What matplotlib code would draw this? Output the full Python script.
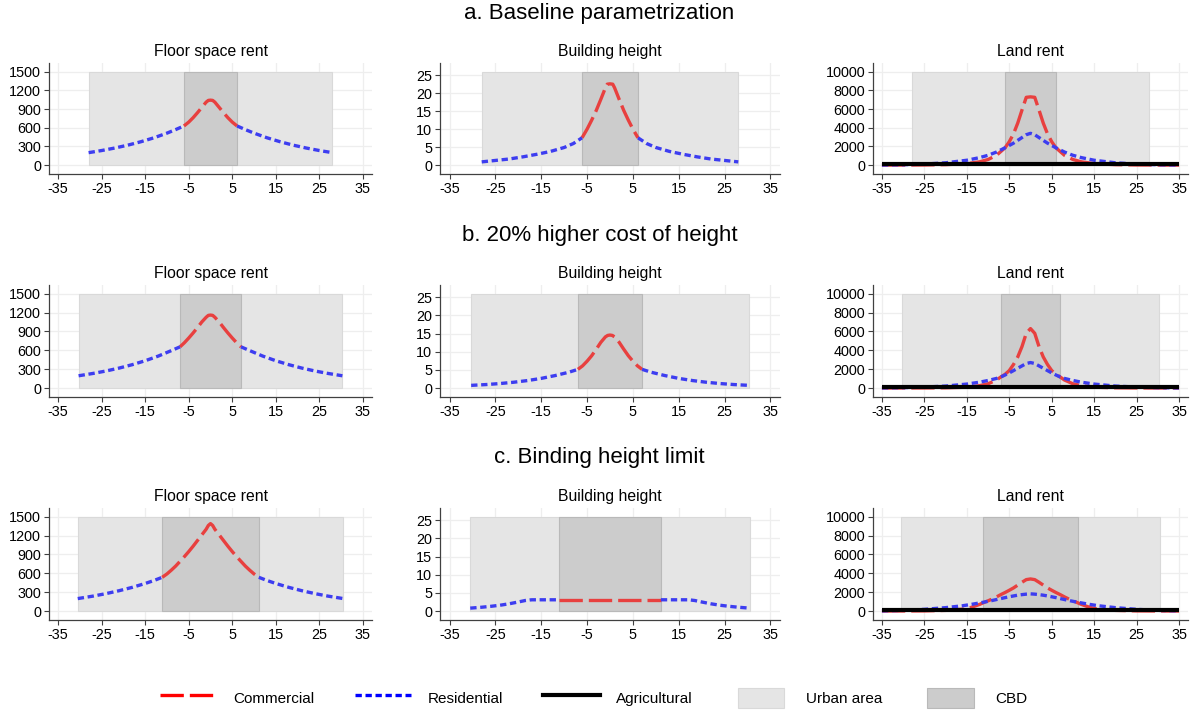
import numpy as np
import matplotlib
matplotlib.use("Agg")
import matplotlib.pyplot as plt
from matplotlib.lines import Line2D
from matplotlib.patches import Rectangle, Patch
from matplotlib.legend_handler import HandlerPatch

plt.rcParams['font.family'] = ['Liberation Sans', 'DejaVu Sans']
plt.rcParams['axes.unicode_minus'] = False

nan = np.nan

# ---------------- data ----------------
ROW_TITLES = ["a. Baseline parametrization", "b. 20% higher cost of height", "c. Binding height limit"]
PANEL_TITLES = ["Floor space rent", "Building height", "Land rent"]
LEGEND_LABELS = ["Commercial", "Residential", "Agricultural", "Urban area", "CBD"]

X_TICKS = [-35, -25, -15, -5, 5, 15, 25, 35]
FLOOR_TICKS = [0, 300, 600, 900, 1200, 1500]
HEIGHT_TICKS = [0, 5, 10, 15, 20, 25]
LAND_TICKS = [0, 2000, 4000, 6000, 8000, 10000]
SHADE_TOP = [1500, 26, 10000]   # floor, height, land

# boundaries per scenario
CBD_EDGE = [6.1, 7.0, 11.1]
URBAN_EDGE = [28.0, 30.3, 30.5]

# --- a. baseline ---
A_FLOOR_RES_X = [-28, -25, -22, -19, -16, -13, -10, -8, -6.1, nan, 6.1, 8, 10, 13, 16, 19, 22, 25, 28]
A_FLOOR_RES_Y = [200, 234, 274, 320, 375, 438, 513, 570, 628, nan, 628, 570, 513, 438, 375, 320, 274, 234, 200]
A_FLOOR_COM_X = [-6.1, -5, -4, -3, -2, -1, -0.5, 0, 0.5, 1, 2, 3, 4, 5, 6.1]
A_FLOOR_COM_Y = [628, 690, 760, 840, 925, 1010, 1038, 1042, 1038, 1010, 925, 840, 760, 690, 628]

A_HEIGHT_RES_X = [-28, -25, -22, -19, -16, -13, -10, -8, -6.1, nan, 6.1, 8, 10, 13, 16, 19, 22, 25, 28]
A_HEIGHT_RES_Y = [0.9, 1.3, 1.7, 2.3, 3.0, 3.8, 4.9, 6.0, 7.6, nan, 7.6, 6.0, 4.9, 3.8, 3.0, 2.3, 1.7, 1.3, 0.9]
A_HEIGHT_COM_X = [-6.1, -5, -4, -3, -2, -1, -0.6, 0, 0.6, 1, 2, 3, 4, 5, 6.1]
A_HEIGHT_COM_Y = [7.6, 10.0, 12.5, 15.2, 18.3, 21.5, 22.5, 22.6, 22.5, 21.5, 18.3, 15.2, 12.5, 10.0, 7.6]

A_LAND_X = [-35, -30, -25, -20, -15, -12, -10, -8, -6, -5, -4, -3, -2, -1, 0,
            1, 2, 3, 4, 5, 6, 8, 10, 12, 15, 20, 25, 30, 35]
A_LAND_COM = [0, 5, 15, 50, 160, 350, 600, 1050, 1850, 2500, 3350, 4500, 5900, 7250, 7300,
              7250, 5900, 4500, 3350, 2500, 1850, 1050, 600, 350, 160, 50, 15, 5, 0]
A_LAND_RES = [10, 40, 110, 250, 520, 800, 1050, 1400, 1850, 2100, 2350, 2650, 2950, 3250, 3400,
              3250, 2950, 2650, 2350, 2100, 1850, 1400, 1050, 800, 520, 250, 110, 40, 10]

# --- b. 20% higher cost of height ---
B_FLOOR_RES_X = [-30.3, -27, -24, -21, -18, -15, -12, -9, -7, nan, 7, 9, 12, 15, 18, 21, 24, 27, 30.3]
B_FLOOR_RES_Y = [195, 232, 271, 317, 371, 434, 508, 595, 655, nan, 655, 595, 508, 434, 371, 317, 271, 232, 195]
B_FLOOR_COM_X = [-7, -6, -5, -4, -3, -2, -1, -0.5, 0, 0.5, 1, 2, 3, 4, 5, 6, 7]
B_FLOOR_COM_Y = [655, 720, 795, 875, 960, 1050, 1125, 1155, 1160, 1155, 1125, 1050, 960, 875, 795, 720, 655]

B_HEIGHT_RES_X = [-30.3, -27, -24, -21, -18, -15, -12, -9, -7, nan, 7, 9, 12, 15, 18, 21, 24, 27, 30.3]
B_HEIGHT_RES_Y = [0.74, 0.96, 1.24, 1.6, 2.06, 2.66, 3.43, 4.35, 5.15, nan, 5.15, 4.35, 3.43, 2.66, 2.06, 1.6, 1.24, 0.96, 0.74]
B_HEIGHT_COM_X = [-7, -6, -5, -4, -3, -2, -1, -0.5, 0, 0.5, 1, 2, 3, 4, 5, 6, 7]
B_HEIGHT_COM_Y = [5.15, 6.1, 7.4, 8.9, 10.7, 12.6, 14.1, 14.5, 14.6, 14.5, 14.1, 12.6, 10.7, 8.9, 7.4, 6.1, 5.15]

B_LAND_X = [-35, -30, -25, -20, -15, -12, -10, -8, -7, -6, -5, -4, -3, -2, -1, 0,
            1, 2, 3, 4, 5, 6, 7, 8, 10, 12, 15, 20, 25, 30, 35]
B_LAND_COM = [0, 3, 8, 25, 90, 250, 450, 850, 1170, 1450, 1850, 2500, 3300, 4400, 5800, 6300,
              5800, 4400, 3300, 2500, 1850, 1450, 1170, 850, 450, 250, 90, 25, 8, 3, 0]
B_LAND_RES = [10, 40, 100, 210, 420, 620, 800, 1020, 1170, 1380, 1600, 1850, 2100, 2350, 2600, 2700,
              2600, 2350, 2100, 1850, 1600, 1380, 1170, 1020, 800, 620, 420, 210, 100, 40, 10]

# --- c. binding height limit ---
C_FLOOR_RES_X = [-30.5, -27, -24, -21, -18, -15, -13, -11.1, nan, 11.1, 13, 15, 18, 21, 24, 27, 30.5]
C_FLOOR_RES_Y = [198, 237, 277, 323, 376, 438, 485, 536, nan, 536, 485, 438, 376, 323, 277, 237, 198]
C_FLOOR_COM_X = [-11.1, -10, -9, -8, -7, -6, -5, -4, -3, -2, -1, -0.5, 0,
                 0.5, 1, 2, 3, 4, 5, 6, 7, 8, 9, 10, 11.1]
C_FLOOR_COM_Y = [536, 590, 650, 715, 790, 865, 945, 1030, 1120, 1210, 1300, 1360, 1390,
                 1360, 1300, 1210, 1120, 1030, 945, 865, 790, 715, 650, 590, 536]

C_HEIGHT_RES_X = [-30.5, -28, -26, -24, -22, -20, -18.5, -17.5, -17, -11.1, nan,
                  11.1, 17, 17.5, 18.5, 20, 22, 24, 26, 28, 30.5]
C_HEIGHT_RES_Y = [0.8, 1.05, 1.3, 1.6, 2.0, 2.5, 2.9, 3.05, 3.1, 3.1, nan,
                  3.1, 3.1, 3.05, 2.9, 2.5, 2.0, 1.6, 1.3, 1.05, 0.8]
C_HEIGHT_COM_X = [-11.1, 11.1]
C_HEIGHT_COM_Y = [3.1, 3.1]

C_LAND_X = [-35, -30, -25, -20, -16, -14, -12, -11, -10, -9, -8, -7, -6, -5, -4, -3, -2, -1, 0,
            1, 2, 3, 4, 5, 6, 7, 8, 9, 10, 11, 12, 14, 16, 20, 25, 30, 35]
C_LAND_COM = [0, 5, 15, 70, 200, 380, 700, 900, 1080, 1280, 1500, 1740, 1960, 2200, 2450, 2750, 3050, 3330, 3400,
              3330, 3050, 2750, 2450, 2200, 1960, 1740, 1500, 1280, 1080, 900, 700, 380, 200, 70, 15, 5, 0]
C_LAND_RES = [20, 70, 180, 360, 560, 700, 860, 940, 1030, 1120, 1220, 1320, 1420, 1510, 1600, 1680, 1740, 1790, 1820,
              1790, 1740, 1680, 1600, 1510, 1420, 1320, 1220, 1120, 1030, 940, 860, 700, 560, 360, 180, 70, 20]

AGRI_X = [-35, 35]
AGRI_Y = [80, 80]

# ---------------- styles ----------------
RED = '#e8403f'
BLUE = '#3d3df0'
URBAN_FC, URBAN_EC = '#e5e5e5', '#d9d9d9'
CBD_FC, CBD_EC = '#cccccc', '#b9b9b9'
SPINE = '#404040'
GRID = '#eeeeee'
LW = 2.4
RED_DASH = (7, 1.8)
BLUE_DASH = (1.9, 1.1)

W, H = 1199, 713
fig = plt.figure(figsize=(W / 100, H / 100), dpi=100)
fig.patch.set_facecolor('white')

COLS = [(49, 372), (440, 780), (873, 1188)]
ROWS = [(63, 174), (285, 397), (508, 620)]
TITLE_BASE = [18.5, 240.7, 463.5]


def add_ax(l, t, r, b):
    return fig.add_axes([l / W, 1 - b / H, (r - l) / W, (b - t) / H])


scen = [
    dict(floor=(A_FLOOR_RES_X, A_FLOOR_RES_Y, A_FLOOR_COM_X, A_FLOOR_COM_Y),
         height=(A_HEIGHT_RES_X, A_HEIGHT_RES_Y, A_HEIGHT_COM_X, A_HEIGHT_COM_Y),
         land=(A_LAND_X, A_LAND_RES, A_LAND_COM)),
    dict(floor=(B_FLOOR_RES_X, B_FLOOR_RES_Y, B_FLOOR_COM_X, B_FLOOR_COM_Y),
         height=(B_HEIGHT_RES_X, B_HEIGHT_RES_Y, B_HEIGHT_COM_X, B_HEIGHT_COM_Y),
         land=(B_LAND_X, B_LAND_RES, B_LAND_COM)),
    dict(floor=(C_FLOOR_RES_X, C_FLOOR_RES_Y, C_FLOOR_COM_X, C_FLOOR_COM_Y),
         height=(C_HEIGHT_RES_X, C_HEIGHT_RES_Y, C_HEIGHT_COM_X, C_HEIGHT_COM_Y),
         land=(C_LAND_X, C_LAND_RES, C_LAND_COM)),
]
YTICKS = [FLOOR_TICKS, HEIGHT_TICKS, LAND_TICKS]

for r, (t, b) in enumerate(ROWS):
    fig.text(0.5, 1 - TITLE_BASE[r] / H, ROW_TITLES[r], ha='center', va='baseline', fontsize=16)
    for c, (l, rr) in enumerate(COLS):
        ax = add_ax(l, t, rr, b)
        top = SHADE_TOP[c]
        ax.set_xlim(-37.1, 37.1)
        ax.set_ylim(-0.095 * top, 1.092 * top)
        ax.set_xticks(X_TICKS)
        ax.set_yticks(YTICKS[c])
        ax.grid(True, color=GRID, lw=0.9, zorder=0)
        ax.set_axisbelow(True)
        ue, ce = URBAN_EDGE[r], CBD_EDGE[r]
        ax.bar(0, top, width=2 * ue, bottom=0, color=URBAN_FC, edgecolor=URBAN_EC, lw=0.8, zorder=1)
        ax.bar(0, top, width=2 * ce, bottom=0, color=CBD_FC, edgecolor=CBD_EC, lw=0.8, zorder=2)
        if c < 2:
            key = 'floor' if c == 0 else 'height'
            rx, ry, cx, cy = scen[r][key]
            ax.plot(cx, cy, color=RED, lw=LW, dashes=RED_DASH, zorder=3)
            ax.plot(rx, ry, color=BLUE, lw=LW, dashes=BLUE_DASH, zorder=4)
        else:
            lx, lres, lcom = scen[r]['land']
            ax.plot(lx, lcom, color=RED, lw=LW, dashes=RED_DASH, zorder=3)
            ax.plot(lx, lres, color=BLUE, lw=LW, dashes=BLUE_DASH, zorder=4)
            ax.plot(AGRI_X, AGRI_Y, color='black', lw=3.0, zorder=5, solid_capstyle='butt')
        for s in ['top', 'right']:
            ax.spines[s].set_visible(False)
        for s in ['left', 'bottom']:
            ax.spines[s].set_color(SPINE)
            ax.spines[s].set_linewidth(0.9)
        ax.tick_params(direction='out', length=3.6, width=0.8, color=SPINE,
                       labelsize=10.4, labelcolor='black', pad=2)
        ax.set_title(PANEL_TITLES[c], fontsize=11.3, pad=5)


class NarrowPatch(HandlerPatch):
    def __init__(self):
        def pf(legend, orig_handle, xdescent, ydescent, width, height, fontsize):
            return Rectangle((-xdescent + 0.09 * width, -ydescent), 0.82 * width, height)
        super().__init__(patch_func=pf)


handles = [
    Line2D([], [], color='#ff0000', lw=LW, dashes=RED_DASH),
    Line2D([], [], color='#0000ff', lw=LW, dashes=BLUE_DASH),
    Line2D([], [], color='black', lw=3.0),
    Patch(facecolor=URBAN_FC, edgecolor=URBAN_EC, lw=0.8),
    Patch(facecolor=CBD_FC, edgecolor=CBD_EC, lw=0.8),
]
fig.legend(handles, LEGEND_LABELS, loc='center', bbox_to_anchor=(594 / W, 1 - 698 / H),
           ncol=5, frameon=False, fontsize=11, handlelength=3.7, handleheight=1.7,
           handletextpad=1.1, columnspacing=2.6,
           handler_map={Patch: NarrowPatch()})

fig.savefig('out.png', dpi=100, facecolor='white')
